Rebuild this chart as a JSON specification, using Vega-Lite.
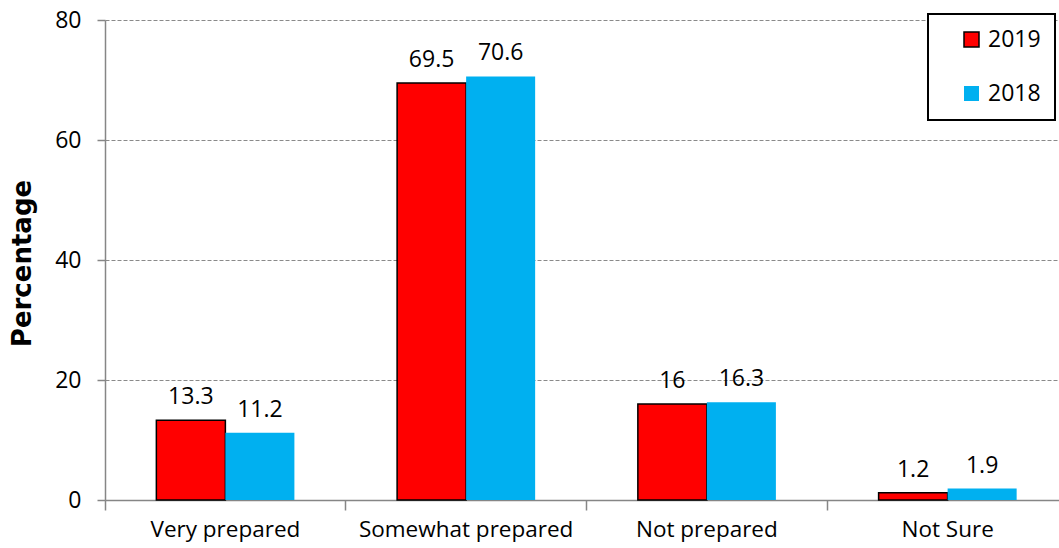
{
  "$schema": "https://vega.github.io/schema/vega-lite/v6.json",
  "width": 963,
  "height": 480,
  "autosize": "none",
  "padding": {"left": 105, "top": 20, "right": 0, "bottom": 48},
  "background": "white",
  "config": {
    "font": "Open Sans",
    "view": {"stroke": null},
    "legend": {"strokeWidth": 2}
  },
  "data": {
    "values": [
      {"category": "Very prepared", "year": "2019", "value": 13.3},
      {"category": "Very prepared", "year": "2018", "value": 11.2},
      {"category": "Somewhat prepared", "year": "2019", "value": 69.5},
      {"category": "Somewhat prepared", "year": "2018", "value": 70.6},
      {"category": "Not prepared", "year": "2019", "value": 16},
      {"category": "Not prepared", "year": "2018", "value": 16.3},
      {"category": "Not Sure", "year": "2019", "value": 1.2},
      {"category": "Not Sure", "year": "2018", "value": 1.9}
    ]
  },
  "encoding": {
    "x": {
      "field": "category",
      "type": "nominal",
      "sort": ["Very prepared", "Somewhat prepared", "Not prepared", "Not Sure"],
      "scale": {"paddingInner": 0, "paddingOuter": 0},
      "axis": {
        "title": null,
        "bandPosition": 0,
        "labelAngle": 0,
        "labelFontSize": 22.5,
        "labelLimit": 0,
        "labelColor": "black",
        "labelPadding": 8,
        "tickSize": 10,
        "tickColor": "#868686",
        "tickWidth": 1.5,
        "domainColor": "#868686",
        "domainWidth": 1.5,
        "grid": false
      }
    },
    "xOffset": {
      "field": "year",
      "type": "nominal",
      "sort": ["2019", "2018"],
      "scale": {"paddingOuter": 0.744, "paddingInner": 0}
    },
    "y": {
      "field": "value",
      "type": "quantitative",
      "scale": {"domain": [0, 80]},
      "axis": {
        "title": "Percentage",
        "titleFont": "DejaVu Sans",
        "titleFontWeight": "bold",
        "titleFontSize": 26,
        "titleColor": "black",
        "titleX": -83,
        "titleY": 243,
        "titleAngle": -90,
        "titleAlign": "center",
        "titleBaseline": "middle",
        "values": [0, 20, 40, 60, 80],
        "labelFontSize": 23,
        "labelColor": "black",
        "labelPadding": 16,
        "tickSize": 8,
        "tickColor": "#868686",
        "tickWidth": 1.5,
        "domainColor": "#868686",
        "domainWidth": 1.5,
        "grid": true,
        "gridColor": "#8a8a8a",
        "gridDash": [4, 2],
        "gridWidth": 1
      }
    }
  },
  "layer": [
    {
      "mark": {"type": "bar", "strokeWidth": 1.5},
      "encoding": {
        "fill": {
          "field": "year",
          "type": "nominal",
          "scale": {"domain": ["2019", "2018"], "range": ["#FF0000", "#00B0F0"]},
          "legend": {
            "title": null,
            "orient": "none",
            "direction": "vertical",
            "legendX": 823,
            "legendY": -6,
            "strokeColor": "black",
            "fillColor": "white",
            "padding": 14,
            "symbolType": "square",
            "symbolSize": 225,
            "symbolOffset": 18,
            "symbolStrokeWidth": 1.5,
            "labelOffset": 5,
            "labelFontSize": 23,
            "labelColor": "black",
            "rowPadding": 30
          }
        },
        "stroke": {
          "field": "year",
          "type": "nominal",
          "scale": {"domain": ["2019", "2018"], "range": ["#000000", "transparent"]},
          "legend": {
            "title": null,
            "orient": "none",
            "direction": "vertical",
            "legendX": 823,
            "legendY": -6,
            "strokeColor": "black",
            "fillColor": "white",
            "padding": 14,
            "symbolType": "square",
            "symbolSize": 225,
            "symbolOffset": 18,
            "symbolStrokeWidth": 1.5,
            "labelOffset": 5,
            "labelFontSize": 23,
            "labelColor": "black",
            "rowPadding": 30
          }
        }
      }
    },
    {
      "mark": {"type": "text", "baseline": "alphabetic", "dy": -16, "fontSize": 23, "color": "black"},
      "encoding": {
        "text": {"field": "value", "type": "quantitative"}
      }
    }
  ]
}
